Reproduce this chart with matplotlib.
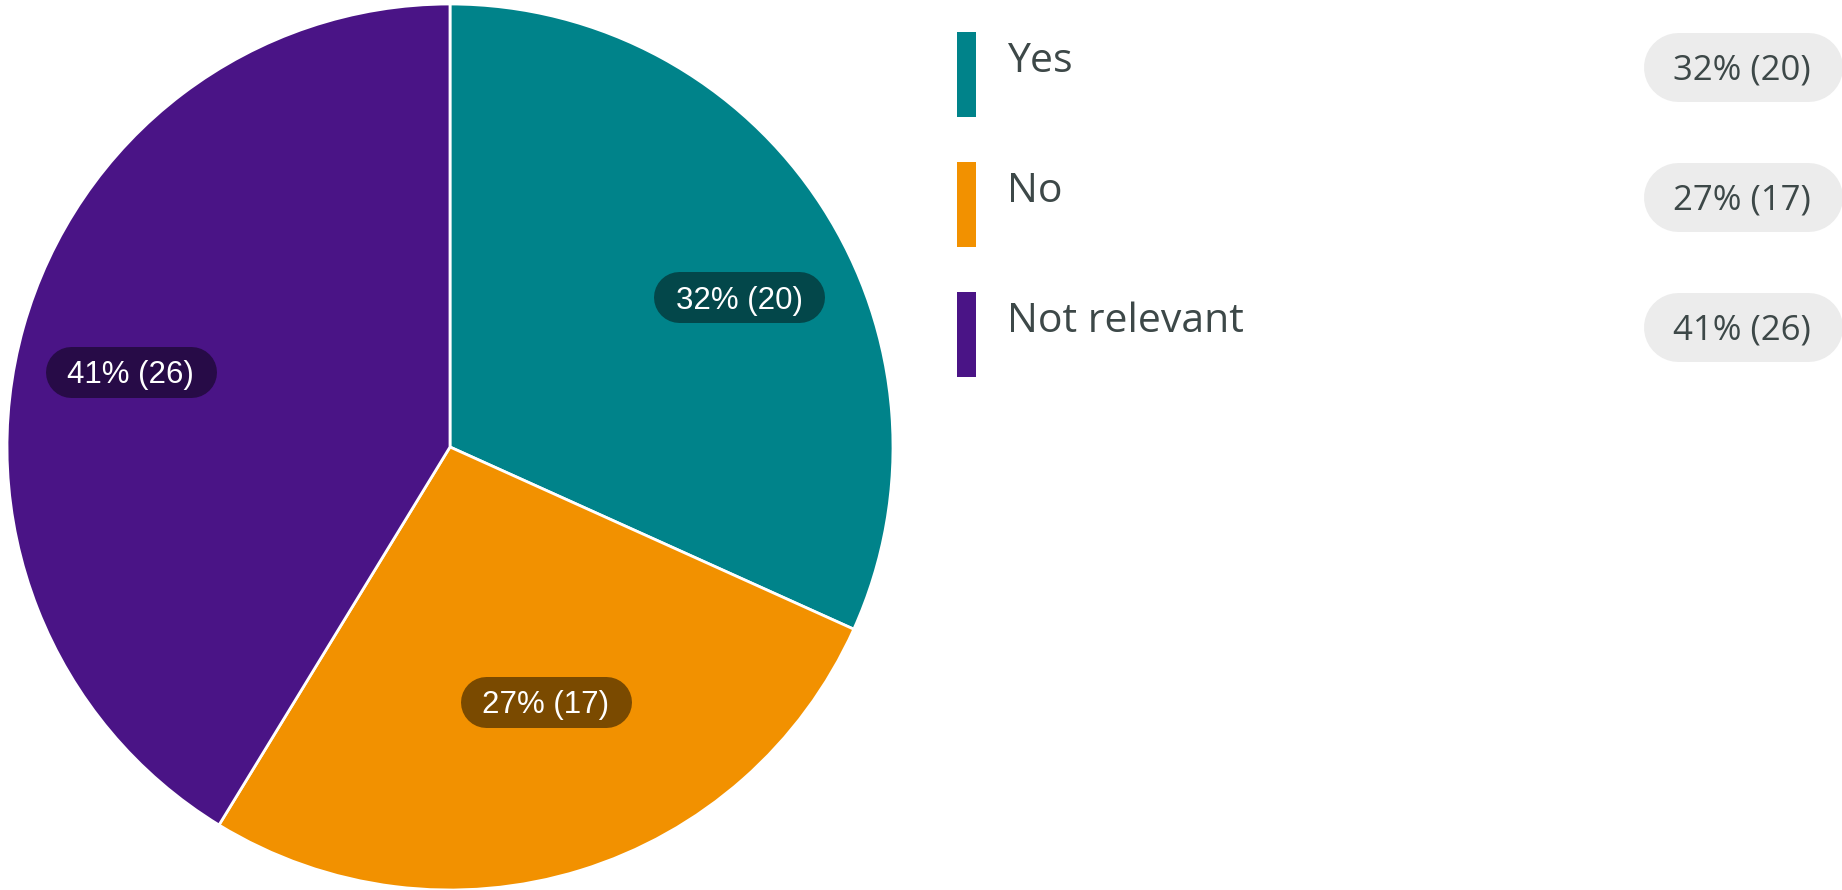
import numpy as np
import matplotlib.pyplot as plt
from matplotlib.patches import Rectangle

labels = ["Yes", "No", "Not relevant"]
counts = [20, 17, 26]
percents = [32, 27, 41]
colors = ["#00838a", "#f29100", "#4a1486"]
inner_bg = ["#03474a", "#7a4a00", "#270b47"]

W, H = 1842, 890
TEXT = "#3d4848"

fig = plt.figure(figsize=(W / 100, H / 100), dpi=100)

# pie, centre (450, 447) px, radius 443 px
R = 443
ax = fig.add_axes([(450 - R) / W, (H - 447 - R) / H, 2 * R / W, 2 * R / H])
wedges, _ = ax.pie(counts, colors=colors, startangle=90, counterclock=False,
                   wedgeprops=dict(edgecolor="white", linewidth=2))
ax.set_xlim(-1, 1)
ax.set_ylim(-1, 1)

# overlay in pixel coords, y going down
lay = fig.add_axes([0, 0, 1, 1])
lay.set_xlim(0, W)
lay.set_ylim(H, 0)
lay.axis("off")

fig.canvas.draw()
renderer = fig.canvas.get_renderer()


def to_px(x, y):
    d = ax.transData.transform((x, y))
    return lay.transData.inverted().transform(d)


def add_pill(txt, cy, padx, height, color, right=None):
    # stadium shape: a thick line with round caps
    bb = txt.get_window_extent(renderer)
    inv = lay.transData.inverted()
    x0 = inv.transform((bb.x0, bb.y0))[0]
    x1 = inv.transform((bb.x1, bb.y1))[0]
    left = x0 - padx
    r = x1 + padx if right is None else right
    h = height / 2
    lay.plot([left + h, r - h], [cy, cy], color=color, lw=height * 0.72,
             solid_capstyle="round", zorder=1)


# labels inside the pie
label_r = [0.735, 0.615, 0.74]
label_nudge = [5.5, -3.5, -2.5]
fs_in = 22.5
cap_in = fs_in * 100 / 72 * 0.716
for i, w in enumerate(wedges):
    mid = np.deg2rad((w.theta1 + w.theta2) / 2 - label_nudge[i])
    px, py = to_px(label_r[i] * np.cos(mid), label_r[i] * np.sin(mid))
    t = lay.text(px, py + cap_in / 2, "%d%% (%d)" % (percents[i], counts[i]),
                 ha="center", va="baseline", fontsize=fs_in, color="white",
                 family="Liberation Sans", zorder=3)
    add_pill(t, py, 22, 51, inner_bg[i])

# legend on the right
row_top = [32, 162, 292]
fs_leg = 29.5
fs_val = 25
for i in range(len(labels)):
    y0 = row_top[i]
    lay.add_patch(Rectangle((957, y0), 19, 85, fc=colors[i], ec="none"))
    lay.text(1007, y0 + 40, labels[i], ha="left", va="baseline",
             fontsize=fs_leg, color=TEXT, family="Open Sans")
    cy = y0 + 35
    cap = fs_val * 100 / 72 * 0.714
    t = lay.text(1811, cy + cap / 2, "%d%% (%d)" % (percents[i], counts[i]),
                 ha="right", va="baseline", fontsize=fs_val, color=TEXT,
                 family="Open Sans", zorder=3)
    add_pill(t, cy, 30, 69, "#ececec", right=W)

fig.savefig("out.png", dpi=100)
